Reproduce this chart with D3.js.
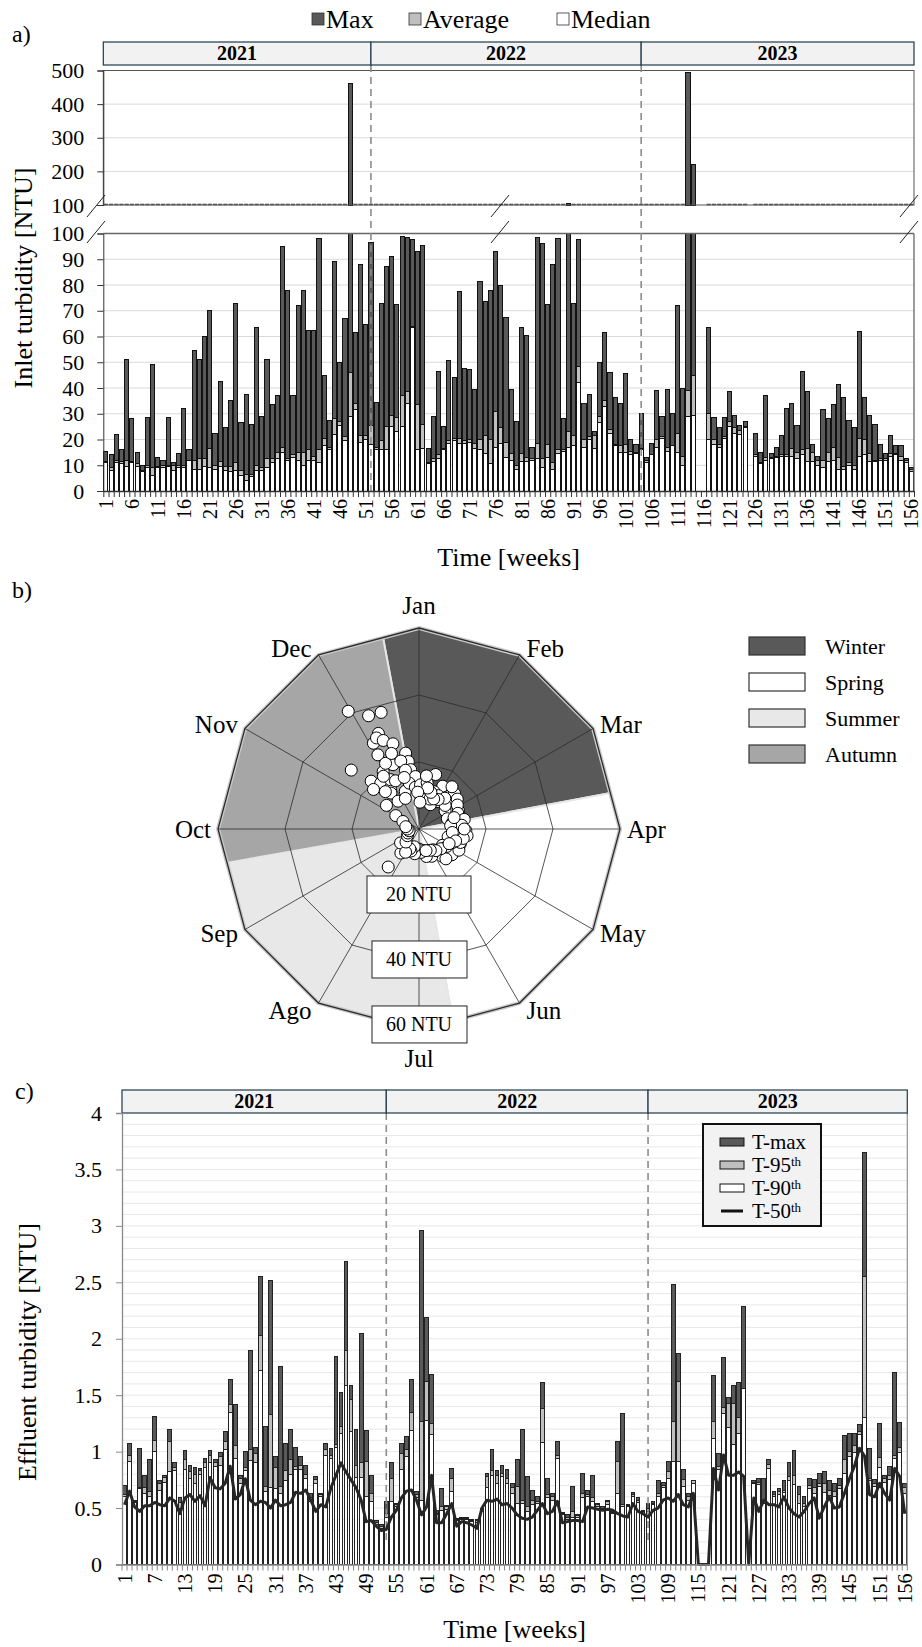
<!DOCTYPE html>
<html>
<head>
<meta charset="utf-8">
<script src="https://cdn.jsdelivr.net/npm/d3@7"></script>
<style>
  body { margin: 0; background: #fff; }
  svg { display: block; }
  svg text { font-family: "Liberation Serif", "Times New Roman", serif !important; }
  .crisp rect { shape-rendering: crispEdges; }
</style>
</head>
<body>
<svg id="chart" width="922" height="1647"></svg>
<script>
// DATA
const weeks = d3.range(1, 157);
const years = ["2021", "2022", "2023"];

// a) inlet turbidity, NTU (null = no data)
const inletMax = [
  15.5, 14, 22, 16, 51, 28, 15, 10, 28.5, 49, 13, 12, 28.5, 11, 14.5, 32, 16, 54.5, 51, 60,
  70, 22.5, 42.5, 24.5, 35, 73, 26.5, 37.5, 26, 63.5, 29, 51, 33.5, 37, 95, 78, 37, 72, 78, 62.5,
  62.5, 98, 45, 27.5, 89, 50, 67, 460, 61.5, 88, 64.5, 96.5, 34.5, 73, 87, 91, 72.5, 99, 98.5, 97.5,
  93, 95.5, 16.5, 29, 46.5, 25, 50.5, 44, 77.5, 47.5, 47, 39.5, 81.5, 73.5, 78, 93, 80, 67.5, 39.5, 27,
  63.5, 60.5, 17, 98.5, 96, 72.5, 88, 98, 28, 104, 73, 97.5, 34, 37.5, 23, 50, 61.5, 46, 36.5, 34,
  45.5, 20, 18, 30, 13, 18.5, 39, 29, 39.5, 30, 72, 40, 493, 220, null, null, 63.5, 28.5, 24.5, 28.5,
  38.5, 29.5, 25.5, 27, null, 22.5, 15, 37, 14.5, 17, 21.5, 32, 34, 25.5, 46.5, 38.5, 18, 13.5, 31.5, 28,
  33.5, 41.5, 36.5, 27.5, 24.5, 62, 36.5, 29.5, 26, 18, 14.5, 21.5, 17.5, 17.5, 12.5, 9
];
const inletAverage = [
  11.5, 9, 12, 11.5, 12, 11.5, 10.5, 8, 10, 9, 9.5, 10, 10, 10, 10, 10, 12, 12, 12.5, 12.5,
  16.5, 10, 11.5, 9.5, 9.5, 11, 8, 6.5, 6.5, 10, 9, 12.5, 12.5, 15, 17, 12.5, 14, 15, 15, 16,
  13.5, 16, 20.5, 17, 28, 27, 21, 46, 34, 21.5, 21.5, 25.5, 17, 19.5, 25, 29.5, 28.5, 37, 38.5, 64,
  33.5, 26, 11, 12.5, 14, 16.5, 19.5, 20.5, 20.5, 19.5, 20, 18.5, 20, 21.5, 20, 31, 24.5, 19, 14.5, 10,
  14.5, 13, 12.5, 18.5, 12.5, 18, 11, 16, 16, 23, 21.5, 48.5, 20, 21, 21.5, 29, 35, 24, 18, 17.5,
  18, 15.5, 15, 16.5, 12, 14, 20, 21, 17, 17.5, 22.5, 13.5, 39, 45, null, null, 30, 20, 18, 21,
  27, 24.5, 23.5, 25, null, 14, 11, 13, 13, 13.5, 14, 14, 16.5, 15, 16, 16.5, 15, 12, 12, 15,
  17, 13, 9.5, 11, 10, 20.5, 20, 14.5, 12, 12.5, 12.5, 14.5, 14.5, 13.5, 12, 8.5
];
const inletMedian = [
  11, 8, 11, 10.5, 9.5, 11, 9.5, 7.5, 9, 6, 9, 9, 9.5, 8, 9, 9, 12, 8.5, 8.5, 9.5,
  9, 8.5, 9.5, 8, 7.5, 8, 6, 4, 5.5, 8, 8, 9, 11, 12.5, 15, 12, 13, 12, 10, 12,
  12, 11, 17.5, 16, 22, 25.5, 19.5, 29, 31.5, 19, 20, 18, 16, 16, 16, 25, 23, 25, 34, 63.5,
  16, 16.5, 10.5, 11.5, 12.5, 16, 18.5, 19.5, 18.5, 18.5, 19, 16.5, 16, 14.5, 10.5, 17, 18.5, 13, 12, 8.5,
  11.5, 11.5, 12, 12.5, 9, 13, 8.5, 14.5, 15.5, 17, 17.5, 42, 17, 20, 16.5, 26.5, 33, 22.5, 17.5, 15,
  15, 14, 14.5, 16, 11, 14, 17, 20.5, 15.5, 17.5, 15, 10, 29, 29.5, null, null, 20, 18, 17, 20.5,
  25, 22.5, 22, 24.5, null, 13.5, 10.5, 12, 12.5, 13, 13.5, 13.5, 13.5, 12.5, 14, 11.5, 11.5, 10, 9, 11.5,
  12, 8.5, 8.5, 10, 8.5, 13.5, 14, 11.5, 11.5, 12, 12, 13.5, 14, 12, 11, 7.5
];

// b) radar
const months = ["Jan", "Feb", "Mar", "Apr", "May", "Jun", "Jul", "Ago", "Sep", "Oct", "Nov", "Dec"];
const monthDays = [31, 28, 31, 30, 31, 30, 31, 31, 30, 31, 30, 31];
const seasons = ["Winter", "Spring", "Summer", "Autumn"];
const seasonStart = ["12-21", "03-21", "06-21", "09-21"];
const seasonColors = ["#595959", "#ffffff", "#e8e8e8", "#a6a6a6"];
const radarRings = [20, 40, 60];
// angle in degrees from January (clockwise), value in NTU
const radarAngle = [
  329, 336, 342, 337, 332, 335, 338, 343, 331, 350, 338, 351, 311, 328, 352, 356, 315, 320, 325, 311,
  322, 323, 333, 340, 345, 330, 318, 326, 347, 334, 306, 300, 295, 340, 348, 355, 344, 336,
  2, 17, 14, 29, 42, 60, 75, 88, 10, 22, 35, 50, 55, 65, 70, 80, 95, 5, 25, 45, 38, 52, 30, 8, 20,
  110, 120, 146, 100, 105, 115, 125, 130, 135, 140, 150, 155, 160, 165, 170, 175, 180, 128, 118, 138, 92, 98, 108,
  217, 219, 233, 185, 190, 195, 200, 205, 210, 225, 240, 250, 260, 270, 280,
  58, 68, 78, 85, 102, 112, 122, 132, 142, 152, 162, 84, 96, 72, 48, 40, 33, 26, 18, 12, 358, 2, 108, 116, 90
];
const radarNTU = [
  41, 37, 36.6, 31, 29, 30, 28.5, 26.6, 25.3, 23, 20.7, 20.4, 26.8, 20.2, 17.9, 15.7, 20.2, 17.8, 14.9, 18,
  13.6, 10.4, 22, 24, 21, 17, 15, 19, 18, 16, 12, 8, 5.3, 12, 14, 12.5, 16, 10,
  13.2, 17, 11, 14.6, 13, 11.6, 11.2, 11.6, 14, 12, 10, 12.5, 9.5, 13, 9, 10, 12.5, 9, 8, 15, 16, 14.5, 11.5, 16, 9.5,
  13.1, 10, 7.5, 11, 9, 12, 8.5, 11, 9.5, 10.5, 8, 9, 7, 8.5, 6.5, 7, 6, 12.5, 13.5, 12, 14, 14.5, 13,
  9, 14.6, 6.9, 6, 7.5, 5.5, 7, 6.5, 8, 5.5, 4, 3.5, 3, 3.5, 4,
  13.5, 12.5, 13.8, 12.8, 13.5, 10.8, 9.8, 8.8, 8.2, 7.2, 6.8, 9.5, 10, 11, 10.5, 12, 10.5, 10, 11.5, 12.5, 11, 8, 11.5, 10, 13.5
];

// c) effluent turbidity, NTU
const effluentMax = [
  0.70, 1.07, 0.57, 1.03, 0.79, 0.93, 1.31, 0.74, 0.79, 1.20, 0.90, 0.59, 1.01, 0.88, 0.86, 0.85, 0.94, 1.01, 0.93, 0.99,
  1.18, 1.64, 1.42, 0.79, 1.00, 1.90, 1.04, 2.55, 1.22, 2.52, 0.96, 1.75, 1.07, 1.20, 1.04, 0.96, 0.88, 0.63, 0.78, 0.63,
  1.07, 1.03, 1.84, 1.52, 2.68, 1.59, 1.20, 2.05, 1.19, 0.79, 0.39, 0.35, 0.56, 0.90, 0.54, 1.07, 1.13, 1.64, 0.65, 2.96,
  2.19, 1.68, 0.48, 0.67, 0.52, 0.85, 0.41, 0.42, 0.42, 0.40, 0.40, 0.50, 0.81, 1.02, 0.83, 0.88, 0.84, 0.72, 0.93, 1.20,
  0.78, 0.66, 0.60, 1.61, 0.76, 0.63, 1.09, 0.46, 0.44, 0.69, 0.44, 0.81, 0.66, 0.79, 0.54, 0.51, 0.57, 0.47, 1.09, 1.34,
  0.53, 0.64, 0.59, 0.48, 0.54, 0.56, 0.74, 0.73, 0.91, 2.48, 1.87, 0.84, 0.63, 0.74, 0, 0, 0, 1.67, 0.98, 1.83,
  1.48, 1.59, 1.61, 2.29, 0, 0.74, 0.76, 0.76, 0.93, 0.65, 0.67, 0.74, 0.90, 1.01, 0.69, 0.60, 0.76, 0.75, 0.81, 0.82,
  0.74, 0.72, 0.76, 1.14, 1.16, 1.16, 1.24, 3.65, 1.03, 0.75, 1.25, 0.79, 0.87, 1.70, 1.26, 0.72
];
const effluent95 = [
  0.62, 0.97, 0.56, 0.68, 0.68, 0.65, 1.10, 0.72, 0.77, 1.09, 0.86, 0.55, 0.93, 0.82, 0.80, 0.83, 0.90, 0.97, 0.90, 0.96,
  1.09, 1.42, 1.05, 0.76, 0.86, 1.02, 0.98, 2.03, 0.69, 1.33, 0.86, 0.69, 0.83, 0.93, 0.87, 0.88, 0.80, 0.59, 0.75, 0.62,
  1.02, 0.97, 1.06, 1.22, 1.90, 1.46, 0.88, 0.90, 0.91, 0.63, 0.37, 0.34, 0.45, 0.76, 0.53, 0.98, 1.02, 1.35, 0.62, 1.27,
  1.62, 1.25, 0.45, 0.51, 0.51, 0.76, 0.40, 0.41, 0.41, 0.39, 0.39, 0.49, 0.78, 0.83, 0.79, 0.81, 0.76, 0.68, 0.69, 0.57,
  0.51, 0.57, 0.56, 1.38, 0.62, 0.60, 0.97, 0.45, 0.42, 0.47, 0.43, 0.63, 0.62, 0.59, 0.53, 0.50, 0.56, 0.46, 0.91, 0.53,
  0.52, 0.62, 0.57, 0.47, 0.50, 0.54, 0.63, 0.70, 0.82, 1.27, 1.62, 0.75, 0.60, 0.74, 0, 0, 0, 1.27, 0.87, 1.39,
  1.43, 1.43, 1.30, 1.56, 0, 0.73, 0.73, 0.57, 0.89, 0.62, 0.65, 0.66, 0.78, 0.79, 0.62, 0.54, 0.70, 0.68, 0.72, 0.72,
  0.66, 0.65, 0.70, 0.93, 1.00, 1.05, 1.18, 2.55, 0.76, 0.72, 0.95, 0.76, 0.79, 0.97, 1.04, 0.68
];
const effluent90 = [
  0.60, 0.91, 0.55, 0.67, 0.63, 0.60, 1.00, 0.66, 0.73, 0.82, 0.83, 0.50, 0.84, 0.76, 0.72, 0.80, 0.86, 0.90, 0.87, 0.88,
  1.02, 1.35, 0.94, 0.72, 0.83, 0.92, 0.90, 1.72, 0.65, 0.68, 0.67, 0.63, 0.74, 0.80, 0.84, 0.84, 0.76, 0.56, 0.72, 0.60,
  0.97, 0.94, 1.04, 1.16, 1.59, 1.18, 0.77, 0.77, 0.60, 0.56, 0.35, 0.32, 0.42, 0.56, 0.51, 0.84, 0.96, 1.19, 0.59, 0.57,
  1.28, 1.15, 0.44, 0.48, 0.49, 0.65, 0.39, 0.40, 0.40, 0.38, 0.37, 0.47, 0.68, 0.79, 0.72, 0.78, 0.72, 0.63, 0.54, 0.54,
  0.47, 0.53, 0.54, 1.08, 0.59, 0.57, 0.94, 0.44, 0.40, 0.42, 0.42, 0.59, 0.60, 0.56, 0.51, 0.49, 0.53, 0.45, 0.63, 0.51,
  0.51, 0.60, 0.55, 0.45, 0.47, 0.53, 0.60, 0.68, 0.76, 0.91, 0.91, 0.69, 0.57, 0.72, 0, 0, 0, 1.12, 0.84, 1.34,
  1.21, 1.06, 1.16, 1.56, 0, 0.72, 0.71, 0.54, 0.85, 0.60, 0.62, 0.64, 0.74, 0.71, 0.54, 0.51, 0.67, 0.63, 0.69, 0.64,
  0.61, 0.60, 0.67, 0.81, 0.96, 0.99, 1.15, 1.30, 0.74, 0.69, 0.86, 0.73, 0.75, 0.94, 0.99, 0.63
];
const effluent50 = [
  0.53, 0.65, 0.51, 0.47, 0.52, 0.52, 0.55, 0.53, 0.52, 0.59, 0.56, 0.45, 0.59, 0.62, 0.56, 0.61, 0.52, 0.77, 0.68, 0.67,
  0.72, 0.87, 0.58, 0.62, 0.76, 0.57, 0.53, 0.56, 0.55, 0.50, 0.57, 0.52, 0.53, 0.55, 0.64, 0.63, 0.66, 0.57, 0.47, 0.53,
  0.51, 0.68, 0.79, 0.90, 0.82, 0.75, 0.68, 0.57, 0.38, 0.39, 0.34, 0.30, 0.31, 0.42, 0.48, 0.59, 0.65, 0.66, 0.57, 0.44,
  0.51, 0.79, 0.37, 0.37, 0.45, 0.54, 0.34, 0.38, 0.37, 0.35, 0.32, 0.50, 0.57, 0.56, 0.58, 0.53, 0.54, 0.50, 0.44, 0.41,
  0.40, 0.42, 0.48, 0.54, 0.45, 0.47, 0.56, 0.37, 0.38, 0.39, 0.39, 0.38, 0.51, 0.50, 0.49, 0.48, 0.49, 0.48, 0.45, 0.43,
  0.42, 0.54, 0.47, 0.45, 0.42, 0.48, 0.50, 0.57, 0.59, 0.56, 0.62, 0.53, 0.51, 0.63, 0, 0, 0, 0.85, 0.66, 0.97,
  0.79, 0.79, 0.82, 0.78, 0, 0.59, 0.47, 0.57, 0.53, 0.53, 0.51, 0.60, 0.50, 0.45, 0.42, 0.47, 0.54, 0.59, 0.41, 0.51,
  0.60, 0.50, 0.51, 0.63, 0.76, 0.87, 1.03, 0.96, 0.62, 0.60, 0.72, 0.63, 0.57, 0.85, 0.78, 0.45
];

const effluentNames = ["T-max", "T-95", "T-90", "T-50"];
const effluentSup = ["", "th", "th", "th"];

// COLOURS
const C_MAX = "#595959";
const C_AVG = "#bfbfbf";
const C_MED = "#ffffff";
const C_HEAD = "#f2f2f2";
const C_HEAD_LINE = "#1f3a4a";

const svg = d3.select("#chart");

// =========================================================
// PANEL A
// =========================================================
const A = { left: 103.3, right: 914, topHi: 70.5, botHi: 205, topLo: 233.5, botLo: 491 };
const dividerA = [52, 104];

const xA = d3.scaleBand().domain(weeks).range([A.left, A.right]).paddingInner(0.2).paddingOuter(0.1);
const yHi = d3.scaleLinear().domain([100, 500]).range([A.botHi, A.topHi]);
const yLo = d3.scaleLinear().domain([0, 100]).range([A.botLo, A.topLo]);

const panelA = svg.append("g");

svg.append("text").attr("x", 12).attr("y", 42).attr("font-size", 24).text("a)");

// LEGEND
const legendA = [
  { label: "Max", fill: C_MAX, x: 312 },
  { label: "Average", fill: C_AVG, x: 409 },
  { label: "Median", fill: C_MED, x: 557 }
];
const legA = panelA.selectAll(".legA").data(legendA).enter().append("g");
legA.append("rect")
  .attr("x", (d) => d.x).attr("y", 13).attr("width", 12).attr("height", 12)
  .attr("fill", (d) => d.fill).attr("stroke", "#333").attr("stroke-width", 0.8);
legA.append("text")
  .attr("x", (d) => d.x + 14).attr("y", 28).attr("font-size", 26).text((d) => d.label);

// GRID
panelA.selectAll(".gridLo").data(d3.range(10, 100, 10)).enter().append("line")
  .attr("x1", A.left).attr("x2", A.right)
  .attr("y1", (d) => yLo(d)).attr("y2", (d) => yLo(d))
  .attr("stroke", "#d9d9d9").attr("stroke-width", 1);
panelA.selectAll(".gridHi").data([200, 300, 400]).enter().append("line")
  .attr("x1", A.left).attr("x2", A.right)
  .attr("y1", (d) => yHi(d)).attr("y2", (d) => yHi(d))
  .attr("stroke", "#d9d9d9").attr("stroke-width", 1);

// BARS
const rowsA = weeks
  .map((w, i) => ({ week: w, max: inletMax[i], avg: inletAverage[i], med: inletMedian[i] }))
  .filter((d) => d.max !== null);

[["max", C_MAX], ["avg", C_AVG], ["med", C_MED]].forEach(([key, fill]) => {
  panelA.append("g").attr("class", "crisp").selectAll("rect").data(rowsA).enter().append("rect")
    .attr("x", (d) => xA(d.week))
    .attr("y", (d) => yLo(Math.min(d[key], 100)))
    .attr("width", xA.bandwidth())
    .attr("height", (d) => yLo(0) - yLo(Math.min(d[key], 100)))
    .attr("fill", fill).attr("stroke", "#111").attr("stroke-width", 1);
});

// top panel: bars above 100 and stubs at the break
panelA.append("g").attr("class", "crisp").selectAll("rect").data(rowsA.filter((d) => d.max > 100)).enter().append("rect")
  .attr("x", (d) => xA(d.week))
  .attr("y", (d) => yHi(Math.min(d.max, 500)))
  .attr("width", xA.bandwidth())
  .attr("height", (d) => yHi(100) - yHi(Math.min(d.max, 500)))
  .attr("fill", C_MAX).attr("stroke", "#111").attr("stroke-width", 1);
panelA.append("g").selectAll("line").data(rowsA.filter((d) => d.max <= 100)).enter().append("line")
  .attr("x1", (d) => xA(d.week)).attr("x2", (d) => xA(d.week) + xA.bandwidth())
  .attr("y1", yHi(100) - 0.5).attr("y2", yHi(100) - 0.5)
  .attr("stroke", "#555").attr("stroke-width", 1.6);

// FRAMES
panelA.append("rect")
  .attr("x", A.left).attr("y", A.topHi).attr("width", A.right - A.left).attr("height", A.botHi - A.topHi)
  .attr("fill", "none").attr("stroke", "#555").attr("stroke-width", 1);
panelA.append("line")
  .attr("x1", A.left).attr("x2", A.right).attr("y1", A.topLo).attr("y2", A.topLo)
  .attr("stroke", "#666").attr("stroke-width", 1.3);
panelA.append("line")
  .attr("x1", A.right).attr("x2", A.right).attr("y1", A.topLo).attr("y2", A.botLo)
  .attr("stroke", "#666").attr("stroke-width", 1.3);

// YEAR DIVIDERS + HEADER
const edgesA = [A.left, ...dividerA.map((w) => xA(w) + xA.bandwidth() / 2), A.right];
panelA.selectAll(".divA").data(edgesA.slice(1, 3)).enter().append("line")
  .attr("x1", (d) => d).attr("x2", (d) => d).attr("y1", 65).attr("y2", A.botLo)
  .attr("stroke", "#8c8c8c").attr("stroke-width", 1.6).attr("stroke-dasharray", "7,5");
const headA = panelA.selectAll(".headA").data(years).enter().append("g");
headA.append("rect")
  .attr("x", (d, i) => edgesA[i]).attr("y", 42)
  .attr("width", (d, i) => edgesA[i + 1] - edgesA[i]).attr("height", 23)
  .attr("fill", C_HEAD).attr("stroke", C_HEAD_LINE).attr("stroke-width", 1.2);
headA.append("text")
  .attr("x", (d, i) => (edgesA[i] + edgesA[i + 1]) / 2).attr("y", 60)
  .attr("text-anchor", "middle").attr("font-size", 20).attr("font-weight", "bold").text((d) => d);

// AXIS
const yAxisLo = panelA.append("g").attr("transform", `translate(${A.left},0)`)
  .call(d3.axisLeft(yLo).tickValues(d3.range(0, 101, 10)).tickSize(6).tickPadding(13));
const yAxisHi = panelA.append("g").attr("transform", `translate(${A.left},0)`)
  .call(d3.axisLeft(yHi).tickValues(d3.range(100, 501, 100)).tickSize(6).tickPadding(13));
[yAxisLo, yAxisHi].forEach((g) => {
  g.selectAll("text").attr("font-size", 22).attr("fill", "#000");
  g.select(".domain").attr("stroke", "#333");
  g.selectAll(".tick line").attr("stroke", "#333");
});

const xAxisA = panelA.append("g").attr("transform", `translate(0,${A.botLo})`)
  .call(d3.axisBottom(xA).tickValues(weeks.filter((w) => (w - 1) % 5 === 0)).tickSize(0));
xAxisA.select(".domain").attr("stroke", "#333").attr("stroke-width", 1.3);
xAxisA.selectAll("text")
  .attr("transform", "rotate(-90)").attr("x", -8).attr("y", 0).attr("dy", "0.35em")
  .style("text-anchor", "end").attr("font-size", 20).attr("fill", "#000");
panelA.selectAll(".tickA").data(d3.range(0, weeks.length + 1)).enter().append("line")
  .attr("x1", (d) => A.left + 0.52 + d * xA.step()).attr("x2", (d) => A.left + 0.52 + d * xA.step())
  .attr("y1", A.botLo).attr("y2", A.botLo + 6).attr("stroke", "#333").attr("stroke-width", 1);

// BREAK MARKS
[96, 500, 909].forEach((bx) => {
  [206, 232].forEach((by) => {
    panelA.append("line")
      .attr("x1", bx - 9).attr("y1", by + 11).attr("x2", bx + 9).attr("y2", by - 11)
      .attr("stroke", "#222").attr("stroke-width", 1);
  });
});

panelA.append("text").attr("x", (A.left + A.right) / 2).attr("y", 566)
  .attr("text-anchor", "middle").attr("font-size", 26).text("Time [weeks]");
panelA.append("text").attr("transform", `translate(32,278) rotate(-90)`)
  .attr("text-anchor", "middle").attr("font-size", 26).text("Inlet turbidity [NTU]");

// =========================================================
// PANEL B  (radar)
// =========================================================
const B = { cx: 419, cy: 829, R: 201 };
const rB = d3.scaleLinear().domain([0, 60]).range([0, B.R]);
const monthAngle = (i) => (i * Math.PI) / 6;
const polar = (a, r) => [B.cx + r * Math.sin(a), B.cy - r * Math.cos(a)];
const ringPath = (r) => d3.line()(months.map((m, i) => polar(monthAngle(i), r))) + "Z";
const dateAngle = (s) => {
  const [m, d] = s.split("-").map(Number);
  return ((m - 1 + (d - 1) / monthDays[m - 1]) * Math.PI) / 6;
};

const panelB = svg.append("g");
svg.append("text").attr("x", 12).attr("y", 598).attr("font-size", 24).text("b)");

svg.append("defs").append("clipPath").attr("id", "radarClip")
  .append("path").attr("d", ringPath(B.R));

// SEASONS
const seasonArcs = seasons.map((s, i) => {
  const a0 = dateAngle(seasonStart[i]);
  let a1 = dateAngle(seasonStart[(i + 1) % 4]);
  if (a1 < a0) a1 += 2 * Math.PI;
  return { season: s, startAngle: a0, endAngle: a1, fill: seasonColors[i] };
});
const arcGen = d3.arc().innerRadius(0).outerRadius(B.R * 1.5);
const seasonG = panelB.append("g").attr("clip-path", "url(#radarClip)");
seasonG.selectAll("path").data(seasonArcs).enter().append("path")
  .attr("transform", `translate(${B.cx},${B.cy})`)
  .attr("d", arcGen).attr("fill", (d) => d.fill)
  .attr("stroke", "#e6e6e6").attr("stroke-width", 2);

// GRID
panelB.append("path").attr("d", ringPath(B.R))
  .attr("fill", "none").attr("stroke", "#c8c8c8").attr("stroke-width", 4);
panelB.selectAll(".ring").data(radarRings).enter().append("path")
  .attr("d", (d) => ringPath(rB(d)))
  .attr("fill", "none").attr("stroke", "#2b2b2b").attr("stroke-width", (d) => (d === 60 ? 1.3 : 0.8));
panelB.selectAll(".spoke").data(months).enter().append("line")
  .attr("x1", B.cx).attr("y1", B.cy)
  .attr("x2", (d, i) => polar(monthAngle(i), B.R)[0])
  .attr("y2", (d, i) => polar(monthAngle(i), B.R)[1])
  .attr("stroke", "#2b2b2b").attr("stroke-width", 0.8);

// POINTS
panelB.append("g").selectAll("circle").data(radarAngle.map((a, i) => ({ a, v: radarNTU[i] })))
  .enter().append("circle")
  .attr("cx", (d) => polar((d.a * Math.PI) / 180, rB(d.v))[0])
  .attr("cy", (d) => polar((d.a * Math.PI) / 180, rB(d.v))[1])
  .attr("r", 6).attr("fill", "#fff").attr("stroke", "#000").attr("stroke-width", 1);

// RING LABELS
const ringLab = panelB.selectAll(".ringLab").data(radarRings).enter().append("g")
  .attr("transform", (d) => `translate(${B.cx},${B.cy + rB(d) * 0.97})`);
ringLab.append("rect")
  .attr("x", (d, i) => (i === 0 ? -52 : -47)).attr("y", -18)
  .attr("width", (d, i) => (i === 0 ? 104 : 95)).attr("height", 37)
  .attr("fill", "#fff").attr("stroke", "#222").attr("stroke-width", 1);
ringLab.append("text").attr("text-anchor", "middle").attr("dy", "0.35em")
  .attr("font-size", 20).text((d) => `${d} NTU`);

// MONTH LABELS
panelB.selectAll(".mLab").data(months).enter().append("text")
  .attr("x", (d, i) => {
    const [vx] = polar(monthAngle(i), B.R);
    const s = Math.sin(monthAngle(i));
    return Math.abs(s) < 0.1 ? vx : vx + (s > 0 ? 7 : -7);
  })
  .attr("y", (d, i) => {
    const [, vy] = polar(monthAngle(i), B.R);
    const c = Math.cos(monthAngle(i));
    const s = Math.sin(monthAngle(i));
    if (Math.abs(s) < 0.1) return vy + (c > 0 ? -23 : 28);
    return vy - c * 8;
  })
  .attr("dy", "0.35em")
  .attr("text-anchor", (d, i) => {
    const s = Math.sin(monthAngle(i));
    return Math.abs(s) < 0.1 ? "middle" : s > 0 ? "start" : "end";
  })
  .attr("font-size", 25).text((d) => d);

// LEGEND
const legB = panelB.selectAll(".legB").data(seasons).enter().append("g")
  .attr("transform", (d, i) => `translate(749,${637 + i * 36})`);
legB.append("rect").attr("width", 56).attr("height", 18)
  .attr("fill", (d, i) => seasonColors[i]).attr("stroke", "#333").attr("stroke-width", 1.2);
legB.append("text").attr("x", 76).attr("y", 9).attr("dy", "0.35em")
  .attr("font-size", 22).text((d) => d);

// =========================================================
// PANEL C
// =========================================================
const Cp = { left: 122, right: 907.3, top: 1113, bottom: 1564.5 };
const dividerC = [53, 105];

const xC = d3.scaleBand().domain(weeks).range([Cp.left, Cp.right]).paddingInner(0.25).paddingOuter(0.125);
const yC = d3.scaleLinear().domain([0, 4]).range([Cp.bottom, Cp.top]);

const panelC = svg.append("g");
svg.append("text").attr("x", 15).attr("y", 1099).attr("font-size", 24).text("c)");

// GRID
panelC.selectAll(".gridC").data(d3.range(1, 40).map((d) => d / 10)).enter().append("line")
  .attr("x1", Cp.left).attr("x2", Cp.right)
  .attr("y1", (d) => yC(d)).attr("y2", (d) => yC(d))
  .attr("stroke", "#e8e8e8").attr("stroke-width", 1);

// BARS
const rowsC = weeks.map((w, i) => ({
  week: w, max: effluentMax[i], p95: effluent95[i], p90: effluent90[i], p50: effluent50[i]
}));
[["max", C_MAX], ["p95", C_AVG], ["p90", C_MED]].forEach(([key, fill]) => {
  panelC.append("g").attr("class", "crisp").selectAll("rect").data(rowsC.filter((d) => d[key] > 0)).enter().append("rect")
    .attr("x", (d) => xC(d.week))
    .attr("y", (d) => yC(d[key]))
    .attr("width", xC.bandwidth())
    .attr("height", (d) => yC(0) - yC(d[key]))
    .attr("fill", fill).attr("stroke", "#222").attr("stroke-width", 1);
});

// YEAR DIVIDERS
const edgesC = [Cp.left, ...dividerC.map((w) => xC(w) + xC.bandwidth() / 2), Cp.right];
panelC.selectAll(".divC").data(edgesC.slice(1, 3)).enter().append("line")
  .attr("x1", (d) => d).attr("x2", (d) => d).attr("y1", Cp.top).attr("y2", Cp.bottom - 22)
  .attr("stroke", "#8c8c8c").attr("stroke-width", 1.6).attr("stroke-dasharray", "7,5");

// T-50 LINE
panelC.append("path").datum(rowsC)
  .attr("d", d3.line().x((d) => xC(d.week) + xC.bandwidth() / 2).y((d) => yC(d.p50)))
  .attr("fill", "none").attr("stroke", "#262626").attr("stroke-width", 3).attr("stroke-linejoin", "round");

// FRAME
panelC.append("line").attr("x1", Cp.right).attr("x2", Cp.right).attr("y1", Cp.top).attr("y2", Cp.bottom)
  .attr("stroke", "#999").attr("stroke-width", 1.3);

// HEADER
const headC = panelC.selectAll(".headC").data(years).enter().append("g");
headC.append("rect")
  .attr("x", (d, i) => edgesC[i]).attr("y", 1090)
  .attr("width", (d, i) => edgesC[i + 1] - edgesC[i]).attr("height", Cp.top - 1090)
  .attr("fill", C_HEAD).attr("stroke", C_HEAD_LINE).attr("stroke-width", 1.2);
headC.append("text")
  .attr("x", (d, i) => (edgesC[i] + edgesC[i + 1]) / 2).attr("y", 1108)
  .attr("text-anchor", "middle").attr("font-size", 20).attr("font-weight", "bold").text((d) => d);

// AXIS
const yAxisC = panelC.append("g").attr("transform", `translate(${Cp.left},0)`)
  .call(d3.axisLeft(yC).tickValues(d3.range(0, 4.01, 0.5)).tickFormat(d3.format("~g")).tickSize(6).tickPadding(14));
yAxisC.selectAll("text").attr("font-size", 22).attr("fill", "#000");
yAxisC.select(".domain").attr("stroke", "#888").attr("stroke-width", 1.3);
yAxisC.selectAll(".tick line").attr("stroke", "#888");

const xAxisC = panelC.append("g").attr("transform", `translate(0,${Cp.bottom})`)
  .call(d3.axisBottom(xC).tickValues(weeks.filter((w) => (w - 1) % 6 === 0 || w === 156)).tickSize(0));
xAxisC.select(".domain").attr("stroke", "#888").attr("stroke-width", 1.3);
xAxisC.selectAll("text")
  .attr("transform", "rotate(-90)").attr("x", -9).attr("y", 0).attr("dy", "0.35em")
  .style("text-anchor", "end").attr("font-size", 20).attr("fill", "#000");
const offC = xC(1) - Cp.left - (xC.step() * xC.paddingInner()) / 2;
panelC.selectAll(".tickC").data(d3.range(0, weeks.length + 1)).enter().append("line")
  .attr("x1", (d) => Cp.left + offC + d * xC.step())
  .attr("x2", (d) => Cp.left + offC + d * xC.step())
  .attr("y1", Cp.bottom).attr("y2", Cp.bottom + 6).attr("stroke", "#888").attr("stroke-width", 1);

// LEGEND
const legC = panelC.append("g").attr("transform", "translate(703,1124)");
legC.append("rect").attr("width", 118).attr("height", 102)
  .attr("fill", C_HEAD).attr("stroke", "#111").attr("stroke-width", 2);
const legCRow = legC.selectAll(".legCRow").data(effluentNames).enter().append("g")
  .attr("transform", (d, i) => `translate(17,${18 + i * 23})`);
legCRow.filter((d, i) => i < 3).append("rect")
  .attr("x", 0).attr("y", -4).attr("width", 24).attr("height", 8)
  .attr("fill", (d, i) => [C_MAX, C_AVG, C_MED][i]).attr("stroke", "#111").attr("stroke-width", 1);
legCRow.filter((d, i) => i === 3).append("line")
  .attr("x1", 1).attr("x2", 23).attr("y1", 0).attr("y2", 0)
  .attr("stroke", "#111").attr("stroke-width", 3);
const legCText = legCRow.append("text").attr("x", 32).attr("dy", "0.35em").attr("font-size", 21);
legCText.append("tspan").text((d) => d);
legCText.append("tspan").attr("dy", "-0.5em").attr("font-size", 13).text((d, i) => effluentSup[i]);

panelC.append("text").attr("x", (Cp.left + Cp.right) / 2).attr("y", 1638)
  .attr("text-anchor", "middle").attr("font-size", 26).text("Time [weeks]");
panelC.append("text").attr("transform", `translate(36,1352) rotate(-90)`)
  .attr("text-anchor", "middle").attr("font-size", 26).text("Effluent turbidity [NTU]");
</script>
</body>
</html>
